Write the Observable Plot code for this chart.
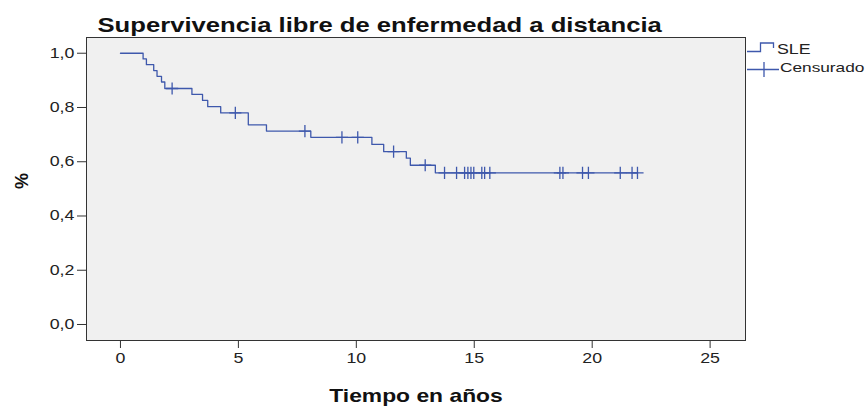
<!DOCTYPE html>
<html>
<head>
<meta charset="utf-8">
<script src="https://cdn.jsdelivr.net/npm/d3@7"></script>
<script src="https://cdn.jsdelivr.net/npm/@observablehq/plot@0.6"></script>
<style>
  body { margin: 0; background: #fff; }
  #chart { position: relative; width: 868px; height: 415px; }
  svg { font-family: "Liberation Sans", Arial, sans-serif; }
</style>
</head>
<body>
<div id="chart"></div>
<script>
// Kaplan-Meier step curve (event times and survival after each step)
const sleTimes = [0, 0.96, 1.10, 1.41, 1.55, 1.74, 1.88, 3.03, 3.48, 3.70, 4.25, 5.42, 6.19, 8.07, 10.66, 11.16, 12.12, 12.29, 13.35, 21.92];
const sleSurv  = [1.0, 0.979, 0.958, 0.936, 0.915, 0.894, 0.870, 0.848, 0.826, 0.803, 0.780, 0.736, 0.713, 0.690, 0.664, 0.637, 0.613, 0.587, 0.559, 0.559];
// Censored observations
const censTimes = [2.19, 4.87, 7.82, 9.39, 10.06, 11.58, 12.92, 13.74, 14.25, 14.59, 14.73, 14.86, 14.98, 15.32, 15.44, 15.66, 18.63, 18.76, 19.59, 19.84, 21.19, 21.69, 21.92];
const censSurv  = [0.870, 0.780, 0.713, 0.690, 0.690, 0.637, 0.587, 0.559, 0.559, 0.559, 0.559, 0.559, 0.559, 0.559, 0.559, 0.559, 0.559, 0.559, 0.559, 0.559, 0.559, 0.559, 0.559];
const xTicks = [0, 5, 10, 15, 20, 25];
const yTicks = [0, 0.2, 0.4, 0.6, 0.8, 1.0];
const titleText = "Supervivencia libre de enfermedad a distancia";
const xLabel = "Tiempo en años";
const yLabel = "%";
const legendLabels = ["SLE", "Censurado"];

const lineColor = "#3e58ac";
const curve = sleTimes.map((t, i) => ({t, s: sleSurv[i]}));
const cens = censTimes.map((t, i) => ({t, s: censSurv[i]}));

const plot = Plot.plot({
  width: 868,
  height: 415,
  marginLeft: 86,
  marginRight: 123,
  marginTop: 37,
  marginBottom: 75,
  style: {fontFamily: "'Liberation Sans', Arial, sans-serif", fontSize: "14px", color: "#222", background: "transparent"},
  x: {domain: [-1.44, 26.5], ticks: xTicks, label: null},
  y: {domain: [-0.059, 1.058], ticks: yTicks, label: null},
  marks: [
    Plot.frame({fill: "#f0f0f0", stroke: null}),
    Plot.axisX({ticks: xTicks, tickSize: 8, tickPadding: 5, label: null, stroke: "#333", fontSize: 14}),
    Plot.axisY({ticks: yTicks, tickSize: 9, tickPadding: 3, label: null, stroke: "#333", fontSize: 14,
      tickFormat: d => d.toFixed(1).replace(".", ",")}),
    Plot.line(curve, {x: "t", y: "s", curve: "step-after", stroke: lineColor, strokeWidth: 1.3}),
    Plot.dot(cens, {x: "t", y: "s", symbol: "plus", r: 4, stroke: lineColor, strokeWidth: 1.3}),
    Plot.frame({stroke: "#333", strokeWidth: 1}),
    Plot.text([titleText], {frameAnchor: "top-left", text: d => d, dx: 11, dy: -20, textAnchor: "start",
      fontSize: 20.2, fontWeight: "bold", fill: "#111"}),
    Plot.text([xLabel], {frameAnchor: "bottom", text: d => d, dy: 61, fontSize: 18, fontWeight: "bold", fill: "#111"}),
    Plot.text([yLabel], {frameAnchor: "left", text: d => d, dx: -64, rotate: -90, fontSize: 18, fontWeight: "bold", fill: "#111", className: "nostretch"})
  ]
});

document.getElementById("chart").appendChild(plot);

// Legend (outside the frame, top right)
const svg = d3.select(plot);
const lg = svg.append("g").attr("class", "legend").attr("text-anchor", "start");
lg.append("path")
  .attr("d", "M747,51.5H760.5V43H773.5V48")
  .attr("fill", "none").attr("stroke", lineColor).attr("stroke-width", 1.3);
lg.append("text").attr("x", 777).attr("y", 54).text(legendLabels[0])
  .attr("font-size", 14).attr("fill", "#222");
lg.append("path")
  .attr("d", "M747,69.5H779M764,62V77")
  .attr("fill", "none").attr("stroke", lineColor).attr("stroke-width", 1.3);
lg.append("text").attr("x", 780).attr("y", 72).text(legendLabels[1])
  .attr("font-size", 13.6).attr("fill", "#222");

// Emulate the horizontally stretched rendering of the original
const k = 1.27;
svg.selectAll("text").each(function() {
  if (this.closest(".nostretch")) return;
  const b = this.getBBox();
  if (!b.width) return;
  const anchor = getComputedStyle(this).textAnchor;
  const ax = anchor === "end" ? b.x + b.width : anchor === "middle" ? b.x + b.width / 2 : b.x;
  const prev = this.getAttribute("transform") || "";
  this.setAttribute("transform", `${prev} translate(${ax},0) scale(${k},1) translate(${-ax},0)`);
});
</script>
</body>
</html>
